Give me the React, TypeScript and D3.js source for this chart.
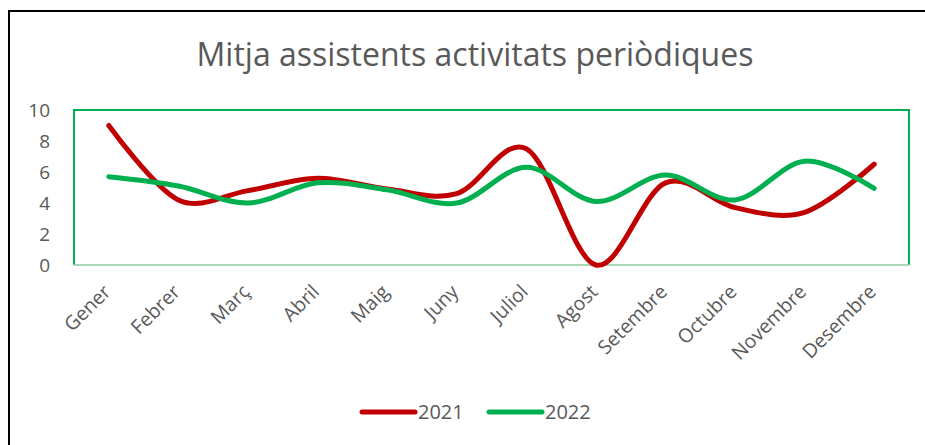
import React from "react";
import * as d3 from "d3";

const months = ["Gener", "Febrer", "Març", "Abril", "Maig", "Juny", "Juliol", "Agost", "Setembre", "Octubre", "Novembre", "Desembre"];
const values2021 = [9.0, 4.2, 4.8, 5.6, 4.9, 4.6, 7.5, 0, 5.3, 3.7, 3.4, 6.5];
const values2022 = [5.7, 5.1, 4.0, 5.3, 4.85, 4.0, 6.3, 4.1, 5.8, 4.2, 6.7, 4.95];
const yTicks = [0, 2, 4, 6, 8, 10];
const seriesNames = ["2021", "2022"];
const colors = ["#C00000", "#00B050"];

const W = 925, H = 445;
const plot = { left: 74, right: 909, top: 110, bottom: 265 };
const font = "'Open Sans', 'DejaVu Sans', sans-serif";

export default function App() {
  const x = d3.scaleBand<string>().domain(months).range([plot.left, plot.right]);
  const y = d3.scaleLinear().domain([0, 10]).range([plot.bottom, plot.top]);
  const cx = (m: string) => (x(m) as number) + x.bandwidth() / 2;
  const line = d3
    .line<number>()
    .x((_, i) => cx(months[i]))
    .y((d) => y(d))
    .curve(d3.curveCatmullRom.alpha(0));
  const series = [values2021, values2022];

  return (
    <svg width={W} height={H} style={{ position: "absolute", left: 0, top: 0, background: "#fff" }}>
      <rect x={0} y={0} width={W} height={H} fill="#fff" />
      <rect x={9} y={11} width={W + 20} height={H + 20} fill="none" stroke="#000" strokeWidth={2} />
      <text x={475} y={66} textAnchor="middle" fontFamily={font} fontSize={32} fill="#595959">
        Mitja assistents activitats periòdiques
      </text>
      <path
        d={`M${plot.left},${plot.bottom} L${plot.left},${plot.top} L${plot.right},${plot.top} L${plot.right},${plot.bottom}`}
        fill="none"
        stroke="#00B050"
        strokeWidth={2}
      />
      <line x1={plot.left} x2={plot.right} y1={plot.bottom} y2={plot.bottom} stroke="#A8D8B8" strokeWidth={2} />
      {yTicks.map((t) => (
        <text key={t} x={50} y={y(t) + 7} textAnchor="end" fontFamily={font} fontSize={19} fill="#595959">
          {t}
        </text>
      ))}
      {months.map((m) => (
        <text
          key={m}
          transform={`translate(${cx(m) + 3},${plot.bottom + 28}) rotate(-45)`}
          textAnchor="end"
          fontFamily={font}
          fontSize={19.5}
          fill="#595959"
        >
          {m}
        </text>
      ))}
      {series.map((s, i) => (
        <path key={i} d={line(s) || ""} fill="none" stroke={colors[i]} strokeWidth={5} strokeLinecap="round" />
      ))}
      {seriesNames.map((n, i) => (
        <g key={n} transform={`translate(${362 + i * 127},412)`}>
          <line x1={0} x2={53} y1={0} y2={0} stroke={colors[i]} strokeWidth={5} strokeLinecap="round" />
          <text x={56} y={7} fontFamily={font} fontSize={20} fill="#595959">
            {n}
          </text>
        </g>
      ))}
    </svg>
  );
}
